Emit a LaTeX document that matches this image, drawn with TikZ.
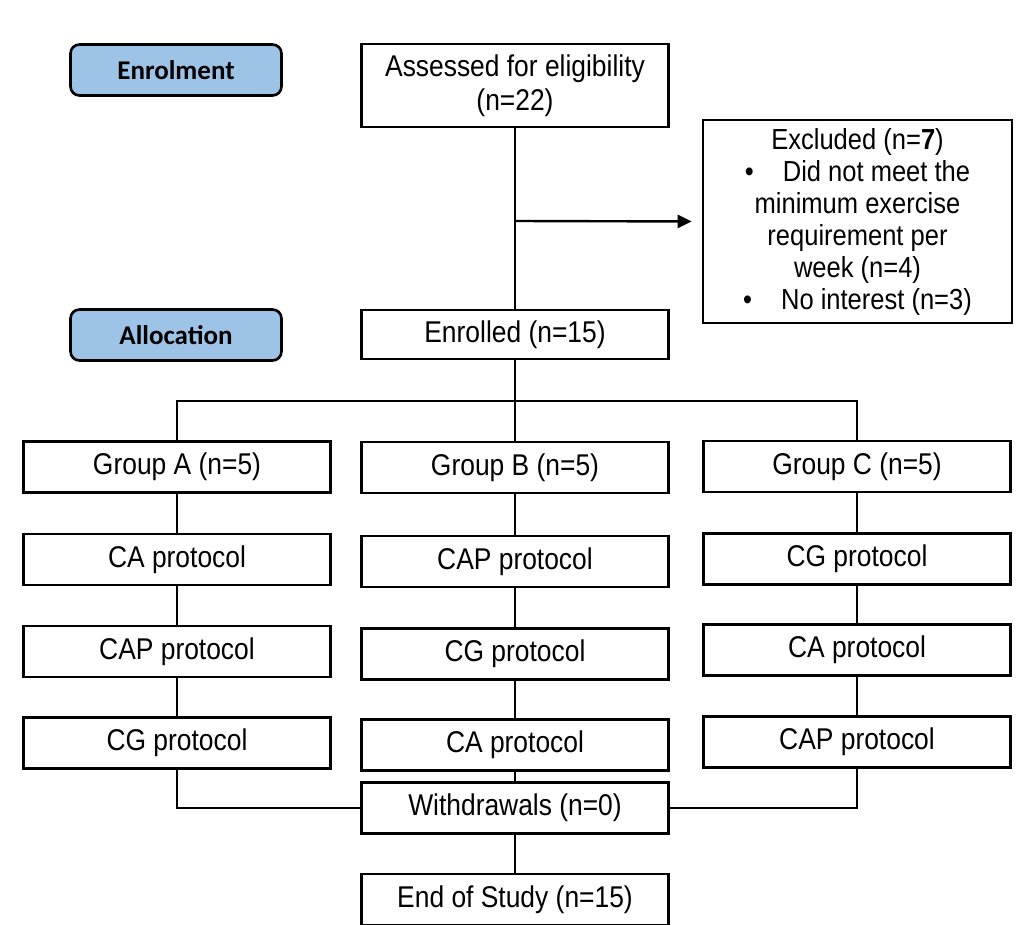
\documentclass[tikz,border=0pt]{standalone}
\usepackage{fontspec}
\setmainfont[FakeStretch=0.88]{Liberation Sans}
\newfontfamily\phasefont{Carlito}
\usetikzlibrary{arrows.meta}
\definecolor{phaseblue}{HTML}{9DC3E6}
\tikzset{
  box/.style   = {shape=rectangle, draw, align=center,
                  line width=2.6pt, inner sep=0pt,
                  minimum width=307pt, minimum height=51pt,
                  font=\fontsize{30}{34}\selectfont},
  phase/.style = {box, rounded corners=9pt, fill=phaseblue,
                  minimum width=211pt, minimum height=51pt,
                  font=\phasefont\bfseries\fontsize{27}{30}\selectfont},
  excl/.style  = {box, minimum width=309pt, minimum height=203pt,
                  font=\fontsize{29}{32}\selectfont},
  link/.style  = {draw, line width=2.4pt}
}
\begin{document}
\begin{tikzpicture}[x=1pt, y=-1pt]
  \useasboundingbox (0,0) rectangle (1016,925);
  % phases
  \node [phase] (enrolment)  at (176,70)  {Enrolment};
  \node [phase] (allocation) at (176,335) {Allocation};
  % top column
  \node [box, minimum height=83pt] (assess) at (515,85.5)
        {Assessed for eligibility\\(n=22)};
  \node [excl] (excluded) at (857.5,221.5)
        {Excluded (n=\textbf{7})\\
         \textbullet\quad Did not meet the\\
         minimum exercise\\
         requirement per\\
         week (n=4)\\
         \textbullet\quad No interest (n=3)};
  \node [box, minimum height=49pt] (enrolled) at (515,334.5) {Enrolled (n=15)};
  % groups
  \node [box] (grpA) at (177,467) {Group A (n=5)};
  \node [box] (grpB) at (515,467.5) {Group B (n=5)};
  \node [box] (grpC) at (857,466.5) {Group C (n=5)};
  \node [box] (a1) at (177,559.5) {CA protocol};
  \node [box] (b1) at (515,561.5) {CAP protocol};
  \node [box] (c1) at (857,559)   {CG protocol};
  \node [box] (a2) at (177,651.5) {CAP protocol};
  \node [box] (b2) at (515,654)   {CG protocol};
  \node [box] (c2) at (857,650)   {CA protocol};
  \node [box] (a3) at (177,743)   {CG protocol};
  \node [box] (b3) at (515,745)   {CA protocol};
  \node [box] (c3) at (857,742)   {CAP protocol};
  % bottom
  \node [box] (withdraw) at (515,808)   {Withdrawals (n=0)};
  \node [box] (finish)   at (515,899.5) {End of Study (n=15)};
  % connectors
  \coordinate (split) at (515,221);
  \coordinate (fork)  at (515,401);
  \draw [link] (assess) -- (enrolled);
  \draw [link, -{Triangle[length=14pt,width=13pt]}, shorten >=10pt]
        (split) -- (excluded.west);
  \draw [link] (enrolled) -- (fork);
  \draw [link] (grpA.north) |- (fork) -| (grpC.north);
  \draw [link] (fork) -- (grpB.north);
  \foreach \g in {a,b,c} {
    \draw [link] (\g1) -- (\g2);
    \draw [link] (\g2) -- (\g3);
  }
  \draw [link] (grpA) -- (a1);
  \draw [link] (grpB) -- (b1);
  \draw [link] (grpC) -- (c1);
  \draw [link] (a3.south) |- (withdraw.west);
  \draw [link] (c3.south) |- (withdraw.east);
  \draw [link] (b3) -- (withdraw);
  \draw [link] (withdraw) -- (finish);
\end{tikzpicture}
\end{document}
